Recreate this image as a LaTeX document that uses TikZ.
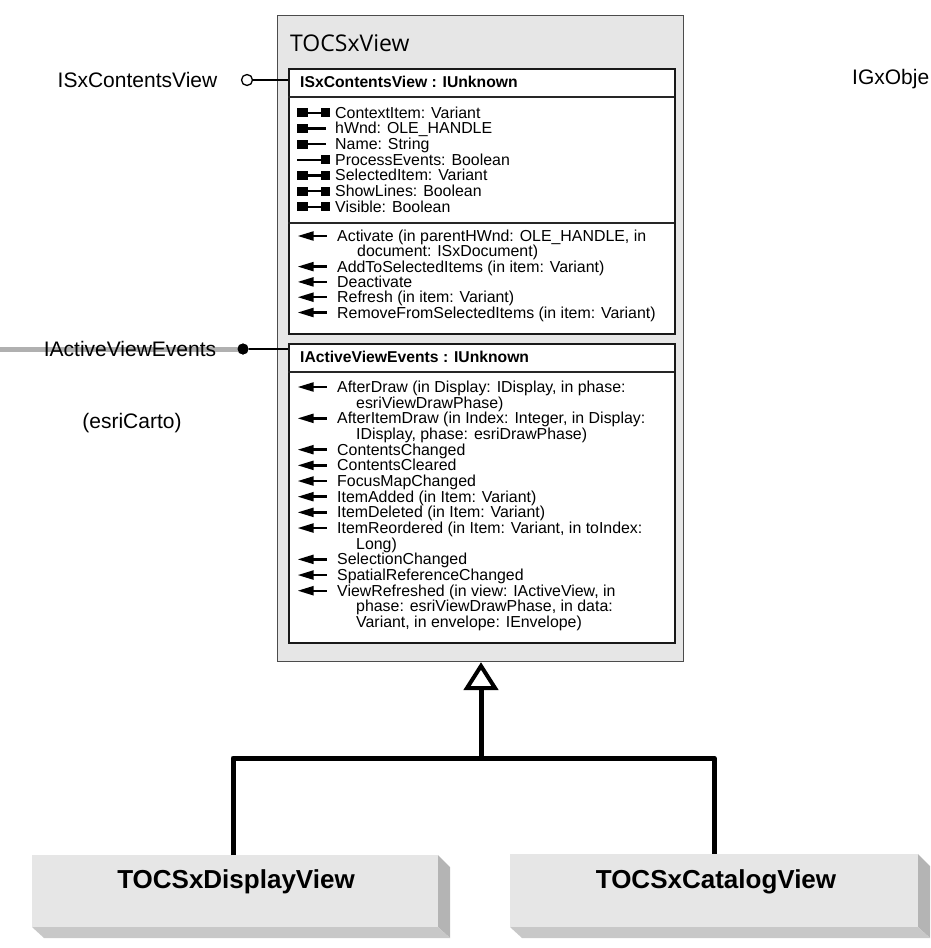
\documentclass[tikz,border=0pt]{standalone}
\usepackage{fontspec}
\setmainfont{Liberation Sans}
\newfontfamily\titlefont{Open Sans}
\usetikzlibrary{arrows.meta}
\definecolor{boxgrey}{HTML}{E6E6E6}
\definecolor{sidegrey}{HTML}{B4B4B4}
\definecolor{botgrey}{HTML}{C8C8C8}
\definecolor{wiregrey}{HTML}{B0B0B0}
\tikzset{
  mem/.style={anchor=base west, inner sep=0, font=\fontsize{15.9}{16}\selectfont},
  hdr/.style={anchor=base west, inner sep=0, font=\fontsize{15.7}{16}\selectfont\bfseries},
  ifbox/.style={draw=black!90, line width=2.2pt, fill=white, anchor=north west, inner sep=0, minimum width=386pt},
  sepline/.style={line width=1.1pt, black!85},
  outlabel/.style={inner sep=0, font=\fontsize{21}{21}\selectfont},
  genline/.style={line width=5pt, line join=round},
  classbox/.style={fill=boxgrey, anchor=north west, inner sep=0},
  classlabel/.style={inner sep=0, font=\fontsize{26}{26}\selectfont\bfseries},
  pics/proprw/.style={code={
    \fill (0,-4.5) rectangle (10.5,4.5);
    \draw[line width=2.4pt] (10,0) -- (24,0);
    \fill (23.5,-4.5) rectangle (32.5,4.5);}},
  pics/propget/.style={code={
    \fill (0,-4.5) rectangle (10.5,4.5);
    \draw[line width=2.4pt] (10,0) -- (29,0);}},
  pics/propput/.style={code={
    \draw[line width=2.4pt] (0,0) -- (24,0);
    \fill (23.5,-4.5) rectangle (32.5,4.5);}},
  pics/methodarrow/.style={code={
    \fill (0,0) -- (15.5,-4.8) -- (15.5,4.8) -- cycle;
    \draw[line width=2.4pt] (14,0) -- (29,0);}},
}
\begin{document}
\begin{tikzpicture}[x=1pt,y=-1pt]
\useasboundingbox (0,0) rectangle (931,948);

% outside wire behind everything
\coordinate (wirestart) at (0,349);

% main class box
\node[draw=black!70, line width=1pt, fill=boxgrey, anchor=north west, inner sep=0,
      minimum width=406pt, minimum height=646pt] (tocs) at (277,15) {};
\node[anchor=base west, inner sep=0, font=\titlefont\fontsize{23}{23}\selectfont] (title) at (290,51) {TOCSxView};

% interface box 1
\node[ifbox, minimum height=265pt] (box1) at (288,68) {};
\draw[sepline] (288,97) -- (674,97);
\draw[sepline] (288,223) -- (674,223);
\node[hdr] (h1) at (300,87.5) {ISxContentsView : IUnknown};

\pic at (297,112.7) {proprw};   \node[mem] (p1) at (335,118.2) {ContextItem: Variant};
\pic at (297,128.4) {propget};  \node[mem] (p2) at (335,133.9) {hWnd: OLE\_HANDLE};
\pic at (297,144.0) {propget};  \node[mem] (p3) at (335,149.5) {Name: String};
\pic at (297,159.7) {propput};  \node[mem] (p4) at (335,165.2) {ProcessEvents: Boolean};
\pic at (297,175.4) {proprw};   \node[mem] (p5) at (335,180.9) {SelectedItem: Variant};
\pic at (297,191.0) {proprw};   \node[mem] (p6) at (335,196.5) {ShowLines: Boolean};
\pic at (297,206.7) {proprw};   \node[mem] (p7) at (335,212.2) {Visible: Boolean};

\pic at (298,236.0) {methodarrow}; \node[mem] (m1) at (337,241.5) {Activate (in parentHWnd: OLE\_HANDLE, in};
\node[mem] (m1b) at (357,256.8) {document: ISxDocument)};
\pic at (298,266.6) {methodarrow}; \node[mem] (m2) at (337,272.1) {AddToSelectedItems (in item: Variant)};
\pic at (298,281.9) {methodarrow}; \node[mem] (m3) at (337,287.4) {Deactivate};
\pic at (298,297.2) {methodarrow}; \node[mem] (m4) at (337,302.7) {Refresh (in item: Variant)};
\pic at (298,312.5) {methodarrow}; \node[mem] (m5) at (337,318.0) {RemoveFromSelectedItems (in item: Variant)};

% interface box 2
\node[ifbox, minimum height=299pt] (box2) at (288,343) {};
\draw[sepline] (288,372) -- (674,372);
\node[hdr] (h2) at (300,362.5) {IActiveViewEvents : IUnknown};

\pic at (298,387.00) {methodarrow}; \node[mem] (e1) at (337,392.50) {AfterDraw (in Display: IDisplay, in phase:};
\node[mem] (e1b) at (356,408.17) {esriViewDrawPhase)};
\pic at (298,418.34) {methodarrow}; \node[mem] (e2) at (337,423.84) {AfterItemDraw (in Index: Integer, in Display:};
\node[mem] (e2b) at (356,439.51) {IDisplay, phase: esriDrawPhase)};
\pic at (298,449.68) {methodarrow}; \node[mem] (e3) at (337,455.18) {ContentsChanged};
\pic at (298,465.35) {methodarrow}; \node[mem] (e4) at (337,470.85) {ContentsCleared};
\pic at (298,481.02) {methodarrow}; \node[mem] (e5) at (337,486.52) {FocusMapChanged};
\pic at (298,496.69) {methodarrow}; \node[mem] (e6) at (337,502.19) {ItemAdded (in Item: Variant)};
\pic at (298,512.36) {methodarrow}; \node[mem] (e7) at (337,517.86) {ItemDeleted (in Item: Variant)};
\pic at (298,528.03) {methodarrow}; \node[mem] (e8) at (337,533.53) {ItemReordered (in Item: Variant, in toIndex:};
\node[mem] (e8b) at (356,549.20) {Long)};
\pic at (298,559.37) {methodarrow}; \node[mem] (e9) at (337,564.87) {SelectionChanged};
\pic at (298,575.04) {methodarrow}; \node[mem] (e10) at (337,580.54) {SpatialReferenceChanged};
\pic at (298,590.71) {methodarrow}; \node[mem] (e11) at (337,596.21) {ViewRefreshed (in view: IActiveView, in};
\node[mem] (e11b) at (356,611.88) {phase: esriViewDrawPhase, in data:};
\node[mem] (e11c) at (356,627.55) {Variant, in envelope: IEnvelope)};

% lollipops and outside labels
\node[outlabel] (lbl1) at (137.5,80) {ISxContentsView};
\node[circle, draw=black, line width=1.3pt, fill=white, minimum size=11pt, inner sep=0] (lol1) at (247,80) {};
\draw[line width=1.4pt] (lol1.east) -- (lol1.east -| box1.west);

\node[circle, fill=black, minimum size=11pt, inner sep=0] (evdot) at (243,349) {};
\draw[wiregrey, line width=5pt] (wirestart) -- (evdot.center);
\node[outlabel] (lbl2) at (130,349) {IActiveViewEvents};
\node[circle, fill=black, minimum size=11pt, inner sep=0] at (243,349) {};
\draw[line width=1.4pt] (evdot.east) -- (evdot.east -| box2.west);

\node[outlabel] (lib) at (132,423) {(esriCarto)};
\node[outlabel, anchor=west] (igx) at (852,79) {IGxObje};

% subclasses
\fill[sidegrey] (438,855) -- (450,867) -- (450,938) -- (438,927) -- cycle;
\fill[botgrey] (32,927) -- (438,927) -- (450,938) -- (44,938) -- cycle;
\node[classbox, minimum width=406pt, minimum height=72pt] (disp) at (32,855) {};
\node[classlabel] (displbl) at (236,882) {TOCSxDisplayView};

\fill[sidegrey] (918,854) -- (930,866) -- (930,938) -- (918,927) -- cycle;
\fill[botgrey] (510,927) -- (918,927) -- (930,938) -- (522,938) -- cycle;
\node[classbox, minimum width=408pt, minimum height=73pt] (cat) at (510,854) {};
\node[classlabel] (catlbl) at (716,882) {TOCSxCatalogView};

% generalization
\coordinate (dtop) at (233,855);
\coordinate (ctop) at (714,854);
\coordinate (jl) at (233,758);
\coordinate (jr) at (714,758);
\coordinate (jm) at (481,758);
\coordinate (tapex) at (481,666);
\coordinate (tbase) at (481,688);
\coordinate (tleft) at (467,688);
\coordinate (tright) at (495,688);
\draw[genline] (dtop) -- (jl) -- (jr) -- (ctop);
\draw[genline] (jm) -- (tbase);
\draw[line width=4pt, line join=miter, fill=white] (tapex) -- (tright) -- (tleft) -- cycle;
\end{tikzpicture}
\end{document}
